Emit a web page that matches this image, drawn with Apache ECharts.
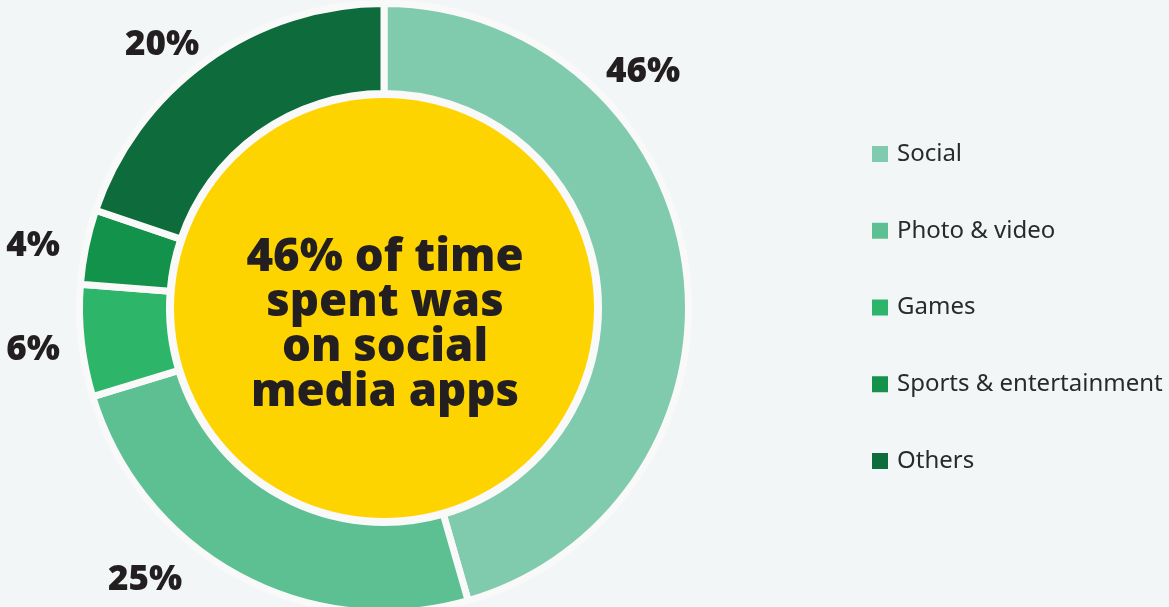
<!DOCTYPE html>
<html><head><meta charset="utf-8">
<script src="https://cdn.jsdelivr.net/npm/echarts@6/dist/echarts.min.js"></script>
<style>html,body{margin:0;padding:0;background:#f3f6f7;}#c{width:1169px;height:607px;}</style>
</head><body><div id="c"></div>
<script>
const categories = ['Social', 'Photo & video', 'Games', 'Sports & entertainment', 'Others'];
const values = [46, 25, 6, 4, 20];
const valueLabels = ['46%', '25%', '6%', '4%', '20%'];
const centerText = '46% of time\nspent was\non social\nmedia apps';
const colors = ['#80cbae', '#5cc093', '#2db56a', '#13924c', '#0d6b3c'];
const labelPos = [[643, 72], [145, 580], [33, 350], [33, 246], [162, 45]];

const chart = echarts.init(document.getElementById('c'), null, {renderer: 'canvas'});
const cx = 384, cy = 308;
chart.setOption({
  backgroundColor: '#f3f6f7',
  animation: false,
  legend: {
    data: categories,
    orient: 'vertical',
    left: 867,
    top: 137,
    padding: 5,
    icon: 'rect',
    itemWidth: 16,
    itemHeight: 16,
    itemGap: 52.75,
    itemStyle: {borderWidth: 0},
    textStyle: {fontFamily: 'Noto Sans', fontSize: 24, color: '#2a2a2a', lineHeight: 23, padding: [0, 0, 0, 4]},
    selectedMode: false
  },
  series: [
    {
      type: 'pie', silent: true, radius: [0, 307], center: [cx, cy],
      label: {show: false}, labelLine: {show: false},
      itemStyle: {color: '#f9f9f9'},
      data: [{value: 1, name: '_bg'}]
    },
    {
      type: 'pie', radius: [214.5, 304.5], center: [cx, cy], startAngle: 90, clockwise: true,
      avoidLabelOverlap: false,
      itemStyle: {borderColor: '#f9f9f9', borderWidth: 7},
      label: {
        show: true, position: 'outside',
        formatter: p => valueLabels[p.dataIndex],
        fontFamily: 'Open Sans', fontWeight: 800, fontSize: 35, color: '#231f20'
      },
      labelLine: {show: false},
      labelLayout: function (params) {
        const p = labelPos[params.dataIndex];
        return {x: p[0], y: p[1], align: 'center', verticalAlign: 'middle'};
      },
      emphasis: {disabled: true},
      data: categories.map((c, i) => ({name: c, value: values[i], itemStyle: {color: colors[i]}}))
    },
    {
      type: 'pie', silent: true, radius: [0, 210], center: [cx, cy],
      itemStyle: {color: '#fed400'},
      labelLine: {show: false},
      label: {
        show: true, position: 'center', formatter: centerText,
        fontFamily: 'Open Sans', fontWeight: 800, fontSize: 45.5, lineHeight: 45, color: '#231f20'
      },
      labelLayout: function () {
        return {x: cx + 1, y: cy + 18, align: 'center', verticalAlign: 'middle'};
      },
      data: [{value: 1, name: '_center'}]
    }
  ]
});
</script></body></html>
